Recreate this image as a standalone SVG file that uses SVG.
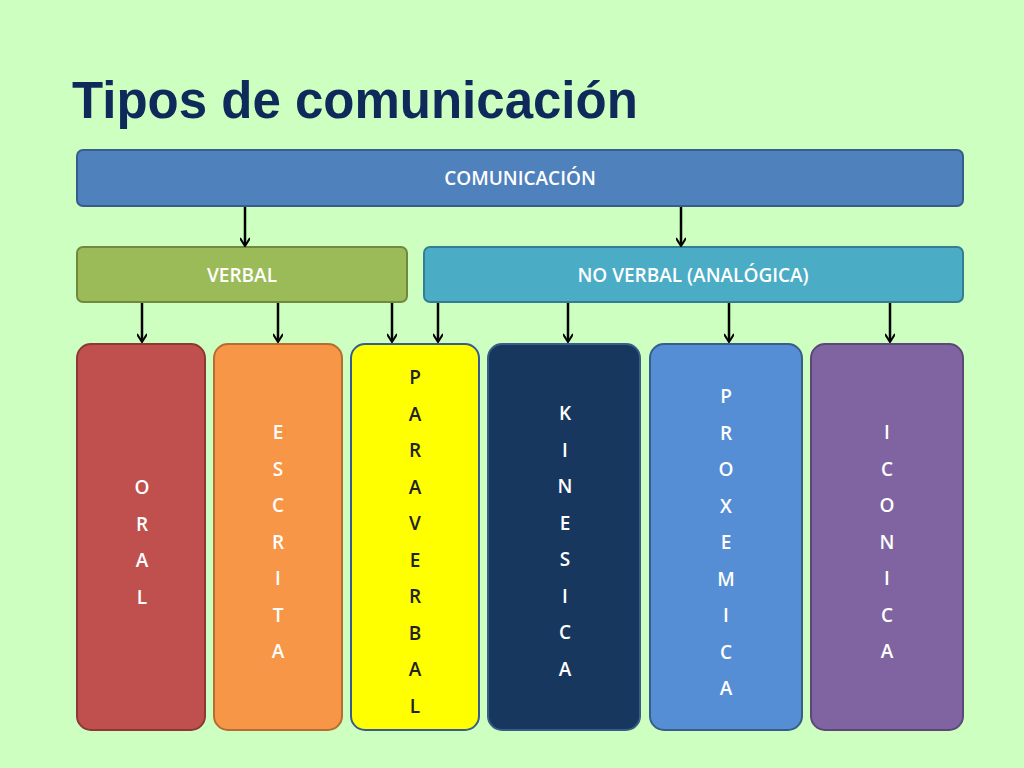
<svg xmlns="http://www.w3.org/2000/svg" width="1024" height="768" viewBox="0 0 1024 768">
<style>
.t{font-family:"Open Sans","Liberation Sans",sans-serif;font-size:19px;font-weight:600;fill:#fff;text-anchor:middle}
.c{stroke-width:2}
</style>
<defs><marker id="a" markerWidth="10" markerHeight="10" refX="8" refY="5" orient="auto" markerUnits="userSpaceOnUse"><path d="M1,0 L9,5 L1,10" fill="none" stroke="#000" stroke-width="2"/></marker></defs>
<rect width="1024" height="768" fill="#CCFFC0"/>
<text x="72" y="118" font-family="Liberation Sans,Arial,sans-serif" font-size="51" font-weight="bold" fill="#0F2A5A">Tipos de comunicación</text>
<g id="comunicacion"><rect x="77" y="150" width="886" height="56" rx="6" fill="#4F81BD" stroke="#385D8A" class="c"/><text class="t" x="520" y="185">COMUNICACIÓN</text></g>
<g id="verbal"><rect x="77" y="247" width="330" height="55" rx="6" fill="#9BBB59" stroke="#71893F" class="c"/><text class="t" x="242" y="282">VERBAL</text></g>
<g id="noverbal"><rect x="424" y="247" width="539" height="55" rx="6" fill="#4BACC6" stroke="#357D91" class="c"/><text class="t" x="693" y="282">NO VERBAL (ANALÓGICA)</text></g>
<g id="connectors" stroke="#000" stroke-width="2.5" marker-end="url(#a)">
<line x1="245" y1="207" x2="245" y2="245"/><line x1="681" y1="207" x2="681" y2="245"/>
<line x1="142" y1="303" x2="142" y2="341"/><line x1="278" y1="303" x2="278" y2="341"/><line x1="392" y1="303" x2="392" y2="341"/><line x1="438" y1="303" x2="438" y2="341"/><line x1="568" y1="303" x2="568" y2="341"/><line x1="729" y1="303" x2="729" y2="341"/><line x1="890" y1="303" x2="890" y2="341"/>
</g>
<g id="oral"><rect x="77" y="344" width="128" height="386" rx="14" fill="#C0504D" stroke="#8C3836" class="c"/>
<text class="t"><tspan x="142" y="494">O</tspan><tspan x="142" dy="36.5">R</tspan><tspan x="142" dy="36.5">A</tspan><tspan x="142" dy="36.5">L</tspan></text></g>
<g id="escrita"><rect x="214" y="344" width="128" height="386" rx="14" fill="#F79646" stroke="#B66D31" class="c"/>
<text class="t"><tspan x="278" y="439">E</tspan><tspan x="278" dy="36.5">S</tspan><tspan x="278" dy="36.5">C</tspan><tspan x="278" dy="36.5">R</tspan><tspan x="278" dy="36.5">I</tspan><tspan x="278" dy="36.5">T</tspan><tspan x="278" dy="36.5">A</tspan></text></g>
<g id="paraverbal"><rect x="351" y="344" width="128" height="386" rx="14" fill="#FFFF00" stroke="#385D8A" class="c"/>
<text class="t" style="fill:#222"><tspan x="415" y="384">P</tspan><tspan x="415" dy="36.5">A</tspan><tspan x="415" dy="36.5">R</tspan><tspan x="415" dy="36.5">A</tspan><tspan x="415" dy="36.5">V</tspan><tspan x="415" dy="36.5">E</tspan><tspan x="415" dy="36.5">R</tspan><tspan x="415" dy="36.5">B</tspan><tspan x="415" dy="36.5">A</tspan><tspan x="415" dy="36.5">L</tspan></text></g>
<g id="kinesica"><rect x="488" y="344" width="152" height="386" rx="14" fill="#17375E" stroke="#385D8A" class="c"/>
<text class="t"><tspan x="565" y="420">K</tspan><tspan x="565" dy="36.5">I</tspan><tspan x="565" dy="36.5">N</tspan><tspan x="565" dy="36.5">E</tspan><tspan x="565" dy="36.5">S</tspan><tspan x="565" dy="36.5">I</tspan><tspan x="565" dy="36.5">C</tspan><tspan x="565" dy="36.5">A</tspan></text></g>
<g id="proxemica"><rect x="650" y="344" width="152" height="386" rx="14" fill="#558ED5" stroke="#385D8A" class="c"/>
<text class="t"><tspan x="726" y="403">P</tspan><tspan x="726" dy="36.5">R</tspan><tspan x="726" dy="36.5">O</tspan><tspan x="726" dy="36.5">X</tspan><tspan x="726" dy="36.5">E</tspan><tspan x="726" dy="36.5">M</tspan><tspan x="726" dy="36.5">I</tspan><tspan x="726" dy="36.5">C</tspan><tspan x="726" dy="36.5">A</tspan></text></g>
<g id="iconica"><rect x="811" y="344" width="152" height="386" rx="14" fill="#8064A2" stroke="#5C4776" class="c"/>
<text class="t"><tspan x="887" y="439">I</tspan><tspan x="887" dy="36.5">C</tspan><tspan x="887" dy="36.5">O</tspan><tspan x="887" dy="36.5">N</tspan><tspan x="887" dy="36.5">I</tspan><tspan x="887" dy="36.5">C</tspan><tspan x="887" dy="36.5">A</tspan></text></g>
</svg>
